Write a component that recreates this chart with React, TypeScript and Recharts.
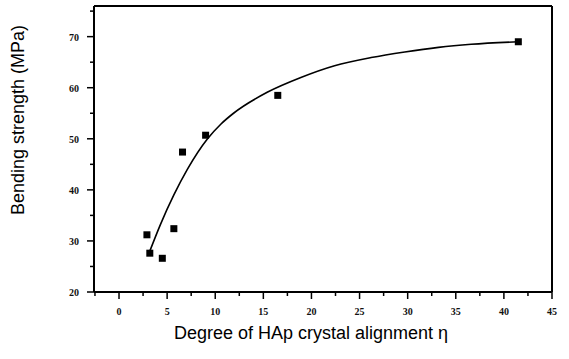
import {
  ComposedChart,
  Line,
  Scatter,
  XAxis,
  YAxis,
  ReferenceLine,
} from "recharts";

// measured points
const alignment = [2.9, 3.2, 4.5, 5.7, 6.6, 9.0, 16.5, 41.5];
const strength = [31.2, 27.6, 26.6, 32.4, 47.4, 50.7, 58.5, 69.0];

// fitted curve
const fitX = [3.2, 4.3, 5.7, 7.1, 9.2, 10.6, 11.9, 15.4, 18.9, 22.4, 26.2, 29.7, 33.2, 36.6, 41.5];
const fitY = [28.0, 33.2, 39.0, 44.0, 50.0, 52.9, 55.0, 59.1, 62.0, 64.3, 65.9, 67.0, 67.9, 68.5, 69.0];

const xTicks = [-2.5, 0, 2.5, 5, 7.5, 10, 12.5, 15, 17.5, 20, 22.5, 25, 27.5, 30, 32.5, 35, 37.5, 40, 42.5, 45];
const yTicks = [20, 25, 30, 35, 40, 45, 50, 55, 60, 65, 70, 75];

const points = alignment.map((x, i) => ({ x, y: strength[i] }));
const curve = fitX.map((x, i) => ({ x, fit: fitY[i] }));

const tickFont = {
  fontFamily: "'Liberation Serif', serif",
  fontWeight: 700,
  fontSize: 10,
  fill: "#111",
};

const XTick = (props: any) => {
  const { x, y, payload } = props;
  const major = payload.value % 5 === 0;
  return (
    <g>
      <line x1={x} y1={y} x2={x} y2={y + (major ? 7 : 4)} stroke="#000" strokeWidth={1.5} />
      {major && (
        <text x={x} y={y + 23} textAnchor="middle" {...tickFont}>
          {payload.value}
        </text>
      )}
    </g>
  );
};

const YTick = (props: any) => {
  const { x, y, payload } = props;
  const major = payload.value % 10 === 0;
  return (
    <g>
      <line x1={x} y1={y} x2={x - (major ? 7 : 4)} y2={y} stroke="#000" strokeWidth={1.5} />
      {major && (
        <text x={x - 15} y={y + 4} textAnchor="end" {...tickFont}>
          {payload.value}
        </text>
      )}
    </g>
  );
};

const Square = (props: any) => {
  const { cx, cy } = props;
  return <rect x={cx - 3.5} y={cy - 3.5} width={7} height={7} fill="#000" />;
};

const labelFont = {
  fontFamily: "'Liberation Sans', Arial, sans-serif",
  fontSize: 18,
  fill: "#000",
};

export default function App() {
  return (
    <div style={{ position: "absolute", left: 0, top: 0, background: "#fff" }}>
      <ComposedChart
        width={569}
        height={359}
        margin={{ top: 6, right: 17, bottom: 0, left: 0 }}
      >
        <XAxis
          dataKey="x"
          type="number"
          domain={[-2.6, 45]}
          ticks={xTicks}
          interval={0}
          allowDataOverflow
          height={67}
          tickSize={0}
          tickMargin={0}
          tickLine={false}
          tick={<XTick />}
          axisLine={{ stroke: "#000", strokeWidth: 2 }}
          label={{
            content: () => (
              <text x={311} y={339} textAnchor="middle" {...labelFont}>
                Degree of HAp crystal alignment η
              </text>
            ),
          }}
        />
        <YAxis
          type="number"
          domain={[20, 76]}
          ticks={yTicks}
          interval={0}
          allowDataOverflow
          width={94}
          tickSize={0}
          tickMargin={0}
          tickLine={false}
          tick={<YTick />}
          axisLine={{ stroke: "#000", strokeWidth: 2 }}
          label={{
            content: () => (
              <text
                x={24}
                y={120}
                textAnchor="middle"
                transform="rotate(-90 24 120)"
                {...labelFont}
              >
                Bending strength (MPa)
              </text>
            ),
          }}
        />
        <ReferenceLine x={45} stroke="#000" strokeWidth={2} />
        <ReferenceLine y={76} stroke="#000" strokeWidth={2} />
        <Line
          data={curve}
          dataKey="fit"
          type="monotone"
          stroke="#000"
          strokeWidth={1.6}
          dot={false}
          activeDot={false}
          isAnimationActive={false}
        />
        <Scatter
          data={points}
          dataKey="y"
          shape={<Square />}
          isAnimationActive={false}
        />
      </ComposedChart>
    </div>
  );
}
